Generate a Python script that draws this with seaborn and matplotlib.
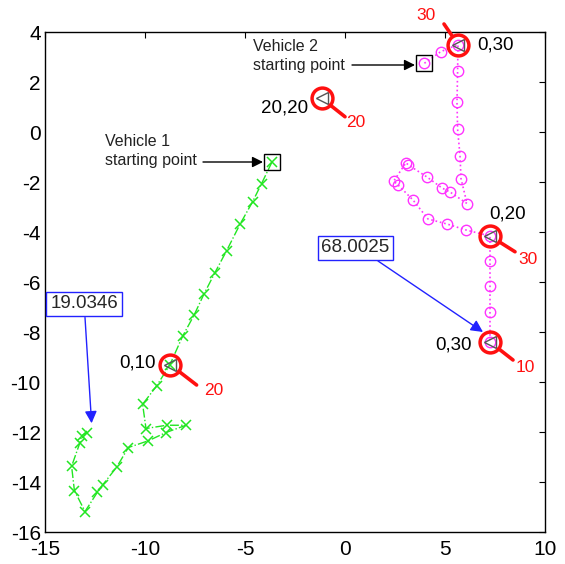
import matplotlib
matplotlib.use("Agg")
import matplotlib.pyplot as plt
import seaborn as sns
import pandas as pd

# ---- data ----
v1_x = [-3.65, -4.17, -4.62, -5.25, -5.92, -6.5, -7.05, -7.55, -8.12, -8.75,
        -9.42, -10.12, -9.95, -8.92, -7.95, -8.95, -9.83, -10.83, -11.42, -12.12,
        -12.38, -13.0, -13.53, -13.67, -13.25, -13.17, -12.92]
v1_y = [-1.2, -2.06, -2.79, -3.69, -4.75, -5.62, -6.48, -7.33, -8.17, -9.3,
        -10.16, -10.89, -11.86, -11.73, -11.73, -12.02, -12.35, -12.62, -13.41, -14.12,
        -14.41, -15.18, -14.34, -13.37, -12.42, -12.15, -12.02]

v2_x = [3.97, 4.78, 5.65, 5.63, 5.6, 5.63, 5.75, 5.8, 6.1, 5.25, 4.85, 4.1, 3.17,
        3.05, 2.43, 2.63, 3.4, 4.15, 5.1, 6.05, 7.25, 7.25, 7.25, 7.25, 7.25]
v2_y = [2.75, 3.21, 3.5, 2.44, 1.19, 0.11, -0.94, -1.86, -2.86, -2.4, -2.24, -1.8, -1.32,
        -1.23, -1.97, -2.1, -2.72, -3.48, -3.68, -3.92, -4.16, -5.15, -6.16, -7.19, -8.4]

hl_x = [-8.75, -1.17, 5.65, 7.25, 7.25]
hl_y = [-9.3, 1.35, 3.5, -4.16, -8.4]
hl_labels = ["0,10", "20,20", "0,30", "0,20", "0,30"]
hl_tags = ["20", "20", "30", "30", "10"]

dist_labels = ["19.0346", "68.0025"]
start_labels = ["Vehicle 1\nstarting point", "Vehicle 2\nstarting point"]

x_ticks = [-15, -10, -5, 0, 5, 10]
y_ticks = [4, 2, 0, -2, -4, -6, -8, -10, -12, -14, -16]

# ---- style ----
sns.set_theme(style="white")
plt.rcParams["font.family"] = ["Liberation Sans", "DejaVu Sans"]

fig = plt.figure(figsize=(5.65, 5.64), dpi=100)
ax = fig.add_axes([45 / 565, 1 - 532 / 564, 500 / 565, 500 / 564])

df1 = pd.DataFrame({"x": v1_x, "y": v1_y})
df2 = pd.DataFrame({"x": v2_x, "y": v2_y})

sns.lineplot(data=df1, x="x", y="y", sort=False, estimator=None, ax=ax,
             color="#22e622", lw=1, linestyle="-.", marker="x", markersize=6.5,
             markeredgewidth=1.1, markeredgecolor="#22e622")
sns.lineplot(data=df2, x="x", y="y", sort=False, estimator=None, ax=ax,
             color="#ff33ff", lw=1.2, linestyle=":", marker="o", markersize=7.5,
             markerfacecolor="none", markeredgecolor="#ff33ff", markeredgewidth=1.0)

# start squares
ax.plot([v1_x[0], v2_x[0]], [v1_y[0], v2_y[0]], "s", mfc="none", mec="black",
        ms=12, mew=1.0, zorder=5)

# highlighted points
ax.plot(hl_x, hl_y, "<", mfc="none", mec="#555555", ms=8, mew=1.0, zorder=6)
ax.plot(hl_x, hl_y, "o", mfc="none", mec="#ff1010", ms=15, mew=2.5, zorder=7)

lead_end = [(-7.42, -10.12), (0.0, 0.61), (4.95, 4.32), (8.5, -4.79), (8.4, -9.12)]
tag_pos = [(-7.05, -10.35, "left"), (0.05, 0.38, "left"), (4.05, 4.68, "center"),
           (8.65, -5.1, "left"), (8.55, -9.4, "left")]
lab_pos = [(-9.45, -9.24, "right"), (-1.85, 0.96, "right"), (6.6, 3.48, "left"),
           (8.15, -3.28, "center"), (6.35, -8.52, "right")]

for i in range(len(hl_x)):
    ax.annotate("", xy=(hl_x[i], hl_y[i]), xytext=lead_end[i],
                arrowprops=dict(arrowstyle="-", color="#ff1010", lw=2.6,
                                shrinkA=0, shrinkB=8),
                annotation_clip=False, zorder=7)
    tx, ty, ha = tag_pos[i]
    ax.text(tx, ty, hl_tags[i], color="#ff1010", fontsize=12.5, ha=ha, va="center",
            clip_on=False)
    lx, ly, lha = lab_pos[i]
    ax.text(lx, ly, hl_labels[i], color="black", fontsize=13.5, ha=lha, va="center")

# starting point labels and arrows
ax.text(-12.0, -0.76, start_labels[0], fontsize=11.5, ha="left", va="center",
        linespacing=1.35, color="#222222")
ax.annotate("", xy=(-4.1, -1.2), xytext=(-7.1, -1.2),
            arrowprops=dict(arrowstyle="-|>", color="black", lw=1,
                            mutation_scale=16, shrinkA=0, shrinkB=0))
ax.text(-4.6, 3.04, start_labels[1], fontsize=11.5, ha="left", va="center",
        linespacing=1.35, color="#222222")
ax.annotate("", xy=(3.5, 2.68), xytext=(0.35, 2.68),
            arrowprops=dict(arrowstyle="-|>", color="black", lw=1,
                            mutation_scale=16, shrinkA=0, shrinkB=0))

# distance boxes
box = dict(boxstyle="square,pad=0.2", fc="white", ec="#2222ff", lw=1)
ax.text(-13.05, -6.88, dist_labels[0], fontsize=13.5, ha="center", va="center", bbox=box)
ax.annotate("", xy=(-12.67, -11.65), xytext=(-13.0, -7.42),
            arrowprops=dict(arrowstyle="-|>", color="#2222ff", lw=1,
                            mutation_scale=18, shrinkA=0, shrinkB=0))
ax.text(0.525, -4.64, dist_labels[1], fontsize=13.5, ha="center", va="center", bbox=box)
ax.annotate("", xy=(6.9, -8.0), xytext=(1.65, -5.16),
            arrowprops=dict(arrowstyle="-|>", color="#2222ff", lw=1,
                            mutation_scale=18, shrinkA=0, shrinkB=0))

# axes
ax.set_xlim(-15, 10)
ax.set_ylim(-16, 4)
ax.set_xticks(x_ticks)
ax.set_yticks(y_ticks)
ax.set_xticklabels([str(t) for t in x_ticks])
ax.set_yticklabels([str(t) for t in y_ticks])
ax.set_xlabel("")
ax.set_ylabel("")
ax.tick_params(direction="in", length=4, width=0.8, top=True, right=True,
               labelsize=15, colors="black", pad=3)
ax.tick_params(axis="x", pad=6)
for s in ax.spines.values():
    s.set_visible(True)
    s.set_color("black")
    s.set_linewidth(1.0)

fig.savefig("out.png", dpi=100, facecolor="white")
